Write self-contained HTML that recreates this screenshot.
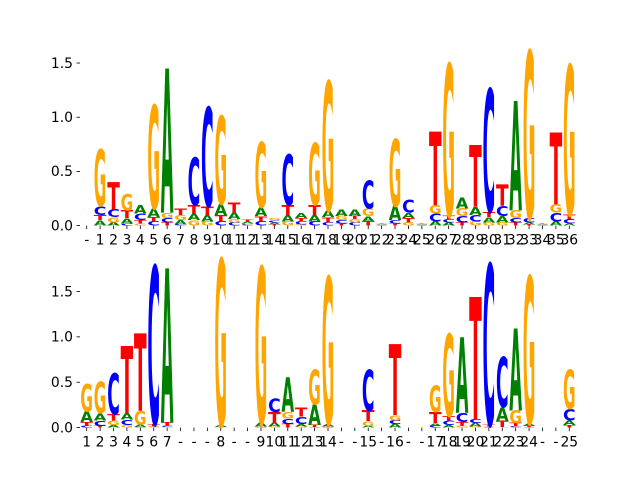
<!DOCTYPE html>
<html><head><meta charset="utf-8"><style>
html,body{margin:0;padding:0;background:#fff;}
svg{display:block;}
</style></head><body>
<svg id="chart" width="640" height="480" xmlns="http://www.w3.org/2000/svg">
<g id="top-panel"></g>
<g id="bottom-panel"></g>
</svg>
<script>
const topLabels = ["-","1","2","3","4","5","6","7","8","9","10","11","12","13","14","15","16","17","18","19","20","21","22","23","24","25","26","27","28","29","30","31","32","33","34","35","36"];
const bottomLabels = ["1","2","3","4","5","6","7","-","-","-","8","-","-","9","10","11","12","13","14","-","-","15","-","16","-","-","17","18","19","20","21","22","23","24","-","-","25"];
const yTicks = [0, 0.5, 1.0, 1.5];
const yTickLabels = ["0.0","0.5","1.0","1.5"];

const topA = [0,.05,.03,.05,.08,.08,1.33,.04,.06,.06,.1,.06,.02,.08,.02,.06,.05,.06,.06,.06,.06,.05,.005,.13,.05,.005,.04,.03,.1,.07,.05,.06,1.01,.02,.005,.04,.02];
const topC = [0,.08,.07,.02,.06,.04,.04,.01,.44,.91,.04,.03,.01,.04,.02,.47,.03,.04,.03,.03,.03,.26,.005,.03,.12,.005,.07,.03,.06,.06,1.13,.09,.04,.04,.005,.08,.04];
const topG = [0,.52,.05,.15,.02,.95,.05,.05,.05,.04,.81,.03,.01,.6,.02,.04,.01,.57,1.19,.04,.03,.07,.005,.62,.03,.005,.08,1.4,.07,.04,.03,.03,.07,1.54,.005,.08,1.38];
const topT = [0,.05,.25,.07,.03,.04,.03,.06,.08,.08,.06,.09,.02,.05,.01,.09,.03,.09,.05,.02,.03,.04,.005,.02,.04,.005,.68,.03,.03,.57,.05,.2,.03,.01,.005,.66,.04];

const botA = [.12,.08,.03,.07,.03,0,1.7,0,0,0,.02,0,0,.04,.04,.38,.03,.22,.03,0,0,.02,0,.04,0,0,.03,.03,.83,.04,.005,.15,.9,.03,0,0,.05];
const botC = [.02,.06,.45,.06,.005,1.74,.01,0,0,0,0,0,0,.005,.15,.06,.08,.005,.005,0,0,.45,0,.04,0,0,.02,.05,.1,.04,1.77,.55,.01,.005,0,0,.13];
const botG = [.3,.34,.05,.03,.15,.01,.005,0,0,0,1.83,0,0,1.72,.01,.07,.01,.38,1.62,0,0,.05,0,.06,0,0,.29,.9,.02,.01,.005,.005,.14,1.62,0,0,.43];
const botT = [.04,.02,.07,.74,.85,.03,.04,0,0,0,.005,0,0,.005,.12,.04,.1,.03,.005,0,0,.12,0,.78,0,0,.12,.05,.04,1.35,.02,.07,.04,.01,0,0,.03];

const NS = "http://www.w3.org/2000/svg";
const colors = {A:"#008000", C:"#0000ff", G:"#ffa500", T:"#ff0000"};
const axLeft = 80, axRight = 576;
function xScale(i){ return axLeft + (i + 0.5) * (axRight - axLeft) / 37; }
const colW = 12.6;

function drawPanel(g, yTop, yBot, ymax, labels, A, C, G, T, prefix){
  const yScale = v => yBot - v * (yBot - yTop) / ymax;
  yTicks.forEach((v, k) => {
    const y = yScale(v);
    const ln = document.createElementNS(NS, "line");
    ln.setAttribute("x1", axLeft - 3.5); ln.setAttribute("x2", axLeft); ln.setAttribute("y1", y); ln.setAttribute("y2", y);
    ln.setAttribute("stroke", "#000"); ln.setAttribute("stroke-width", "0.8");
    
    
    g.appendChild(ln);
    const t = document.createElementNS(NS, "text");
    t.setAttribute("x", axLeft - 7); t.setAttribute("y", y + 4.8);
    t.setAttribute("text-anchor", "end"); t.setAttribute("font-size", "13.9");
    t.setAttribute("font-family", "DejaVu Sans, Liberation Sans, sans-serif");
    t.textContent = yTickLabels[k];
    
    
    g.appendChild(t);
  });
  labels.forEach((lab, i) => {
    const x = xScale(i);
    const ln = document.createElementNS(NS, "line");
    ln.setAttribute("x1", x); ln.setAttribute("x2", x); ln.setAttribute("y1", yBot); ln.setAttribute("y2", yBot + 3.5);
    ln.setAttribute("stroke", "#000"); ln.setAttribute("stroke-width", "0.8");
    
    
    g.appendChild(ln);
    const t = document.createElementNS(NS, "text");
    t.setAttribute("x", x); t.setAttribute("y", yBot + 19);
    t.setAttribute("text-anchor", "middle"); t.setAttribute("font-size", "13.9");
    t.setAttribute("font-family", "DejaVu Sans, Liberation Sans, sans-serif");
    t.textContent = lab;
    
    
    g.appendChild(t);
  });
  labels.forEach((lab, i) => {
    const items = [["A", A[i]], ["C", C[i]], ["G", G[i]], ["T", T[i]]].filter(d => d[1] > 0);
    items.sort((a, b) => a[1] - b[1]);
    let cum = 0;
    items.forEach(([ch, v]) => {
      const y0 = yScale(cum), y1 = yScale(cum + v);
      const h = y0 - y1;
      cum += v;
      const t = document.createElementNS(NS, "text");
      t.setAttribute("x", 0); t.setAttribute("y", 0);
      t.setAttribute("font-size", "100");
      t.setAttribute("font-weight", "bold");
      t.setAttribute("font-family", "DejaVu Sans, Liberation Sans, sans-serif");
      t.setAttribute("textLength", "70");
      t.setAttribute("lengthAdjust", "spacingAndGlyphs");
      t.setAttribute("fill", colors[ch]);
      t.setAttribute("transform", `translate(${xScale(i) - colW / 2},${y0}) scale(${colW / 70},${h / 72.9})`);
      t.textContent = ch;
      
      
      g.appendChild(t);
    });
  });
}

drawPanel(document.getElementById("top-panel"), 57.6, 225.6, 1.55, topLabels, topA, topC, topG, topT, "top");
drawPanel(document.getElementById("bottom-panel"), 259.2, 427.6, 1.856, bottomLabels, botA, botC, botG, botT, "bottom");
</script>
</body></html>
